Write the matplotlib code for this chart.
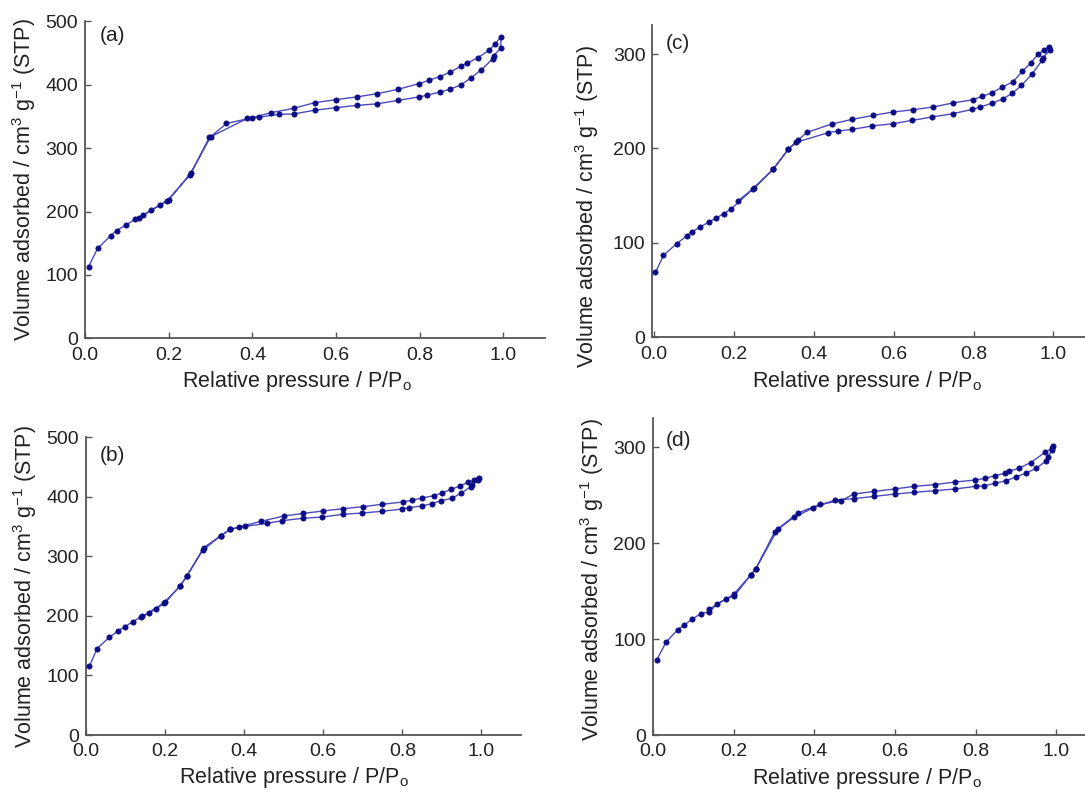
import matplotlib
matplotlib.use("Agg")
import matplotlib.pyplot as plt

plt.rcParams['font.family'] = ['Liberation Sans', 'DejaVu Sans']
plt.rcParams['mathtext.default'] = 'regular'

# ---- nitrogen isotherm data (relative pressure, volume adsorbed) ----
# (a)
a_ads_p = [0.008, 0.030, 0.061, 0.075, 0.098, 0.119, 0.138, 0.158, 0.178, 0.196,
           0.251, 0.297, 0.388, 0.417, 0.464, 0.499, 0.549, 0.600, 0.650, 0.698,
           0.749, 0.799, 0.817, 0.850, 0.873, 0.899, 0.923, 0.948, 0.975, 0.977, 0.994]
a_ads_v = [113, 142, 162, 170, 179, 187.5, 194, 202, 210, 217,
           258, 317, 347, 349, 353.5, 354, 360, 364, 367.6, 370,
           375.5, 381, 383.4, 389, 393, 400, 411, 424, 441, 446, 458]
a_des_p = [0.995, 0.980, 0.967, 0.940, 0.913, 0.900, 0.873, 0.848, 0.822, 0.799,
           0.749, 0.698, 0.650, 0.600, 0.550, 0.499, 0.444, 0.399, 0.338, 0.300,
           0.253, 0.200, 0.128]
a_des_v = [476, 464, 455, 443, 434, 430, 420, 413, 407, 402,
           393, 386, 381, 376.6, 372, 363, 356, 348, 339, 318,
           261, 218.5, 190]

# (b)
b_ads_p = [0.009, 0.028, 0.059, 0.082, 0.099, 0.118, 0.139, 0.160, 0.178, 0.198,
           0.238, 0.255, 0.295, 0.341, 0.365, 0.403, 0.457, 0.496, 0.548, 0.598,
           0.649, 0.699, 0.748, 0.799, 0.818, 0.849, 0.874, 0.898, 0.925, 0.948,
           0.973, 0.976, 0.990, 0.995]
b_ads_v = [115.9, 145, 164, 175.3, 182, 190.4, 198.2, 205, 212.2, 221.2,
           250.3, 267, 310.2, 334.8, 345.5, 350.5, 355.5, 360, 364, 366.2,
           370.7, 372.9, 375.7, 379.6, 381.9, 384.7, 388.6, 393.6, 397.5, 406,
           417.1, 419.9, 428.3, 432.3]
b_des_p = [0.992, 0.982, 0.965, 0.946, 0.923, 0.899, 0.879, 0.850, 0.824, 0.801,
           0.748, 0.700, 0.651, 0.599, 0.550, 0.501, 0.442, 0.388, 0.365, 0.341,
           0.298, 0.255, 0.238, 0.199, 0.143]
b_des_v = [430, 427.8, 424.4, 418.3, 412.7, 405.9, 402, 398.1, 394.2, 391.4,
           387.5, 383.5, 380.2, 376.3, 372.3, 367.9, 358.9, 349.4, 345.5, 334.8,
           314.7, 267, 250.3, 222.8, 199.3]

# (c)
c_ads_p = [0.004, 0.024, 0.057, 0.082, 0.095, 0.115, 0.137, 0.156, 0.175, 0.193,
           0.248, 0.299, 0.336, 0.356, 0.436, 0.462, 0.496, 0.546, 0.598, 0.647,
           0.696, 0.748, 0.797, 0.817, 0.847, 0.873, 0.897, 0.920, 0.946, 0.972,
           0.974, 0.991]
c_ads_v = [68.8, 86.8, 99.2, 107.3, 111.5, 116.8, 121.8, 126.4, 130.9, 135.9,
           157, 177.9, 199, 206.5, 216.7, 218.5, 220.2, 223.8, 226.2, 229.8,
           233.3, 236.8, 241.4, 243.9, 248.1, 252.4, 258.4, 266.8, 278.5, 293.6,
           296.1, 304.2]
c_des_p = [0.990, 0.976, 0.962, 0.943, 0.922, 0.899, 0.871, 0.845, 0.821, 0.798,
           0.748, 0.698, 0.649, 0.598, 0.548, 0.496, 0.445, 0.383, 0.360, 0.336,
           0.299, 0.250, 0.210]
c_des_v = [307.8, 304.2, 300, 290.5, 281.6, 270.7, 264.7, 258.7, 255.2, 251.6,
           248.1, 243.9, 241, 238.6, 235, 230.8, 225.9, 217, 208.6, 199,
           178.5, 158, 144.4]

# (d)
d_ads_p = [0.009, 0.032, 0.061, 0.078, 0.097, 0.119, 0.140, 0.159, 0.181, 0.202,
           0.243, 0.255, 0.302, 0.349, 0.397, 0.451, 0.498, 0.549, 0.600, 0.648,
           0.699, 0.748, 0.800, 0.820, 0.848, 0.875, 0.900, 0.925, 0.950, 0.974,
           0.979, 0.990, 0.992]
d_ads_v = [77.8, 96.5, 109.7, 114.6, 120.8, 126.4, 128.5, 136.5, 141.7, 145.1,
           167, 173.3, 211.8, 226.7, 236.5, 244.8, 246.2, 248.6, 251, 252.8,
           254.5, 256.25, 259, 259.5, 262.2, 264.9, 268.75, 272.9, 277.8, 285.4,
           289.9, 296.9, 300.7]
d_des_p = [0.989, 0.972, 0.936, 0.907, 0.882, 0.872, 0.847, 0.824, 0.799, 0.748,
           0.698, 0.648, 0.599, 0.549, 0.498, 0.466, 0.414, 0.360, 0.310, 0.255,
           0.243, 0.200, 0.140]
d_des_v = [298.6, 294.4, 283.7, 277.8, 274.7, 272.6, 270.1, 267.4, 265.6, 263.5,
           260.8, 259, 256.3, 253.8, 251, 244.1, 240.3, 231.3, 214.9, 173.3,
           167, 146.5, 131.25]

x_ticks = [0.0, 0.2, 0.4, 0.6, 0.8, 1.0]

LINE_COLOR = '#4b4bbd'
MARK_COLOR = '#0c0c86'
AXIS_COLOR = '#555555'
TEXT_COLOR = '#222222'

fig = plt.figure(figsize=(10.85, 7.9), dpi=100)

panels = [
    # tag, data, rect, xlim, ylim, yticks, ylabel xy, xlabel xy, tag xy
    ('(a)', (a_ads_p, a_ads_v, a_des_p, a_des_v),
     [0.0785, 0.5718, 0.4238, 0.4010], (0, 1.1), (0, 500), range(0, 501, 100),
     (-0.134, 0.50), (0.461, -0.138), (0.031, 0.955)),
    ('(b)', (b_ads_p, b_ads_v, b_des_p, b_des_v),
     [0.0792, 0.0696, 0.4010, 0.3768], (0, 1.1), (0, 500), range(0, 501, 100),
     (-0.139, 0.50), (0.478, -0.144), (0.031, 0.940)),
    ('(c)', (c_ads_p, c_ads_v, c_des_p, c_des_v),
     [0.6012, 0.5730, 0.3988, 0.3953], (-0.004, 1.079), (0, 330.7), range(0, 301, 100),
     (-0.151, 0.42), (0.496, -0.143), (0.031, 0.941)),
    ('(d)', (d_ads_p, d_ads_v, d_des_p, d_des_v),
     [0.6018, 0.0696, 0.3982, 0.4009], (0, 1.071), (0, 329.9), range(0, 301, 100),
     (-0.141, 0.49), (0.495, -0.136), (0.030, 0.931)),
]

for tag, (ap, av, dp, dv), rect, xlim, ylim, yticks, ylab_xy, xlab_xy, tag_xy in panels:
    ax = fig.add_axes(rect)
    # adsorption branch followed by the desorption branch as one loop
    p = list(ap) + list(dp)
    v = list(av) + list(dv)
    ax.plot(p, v, color=LINE_COLOR, lw=1.0, zorder=2)
    ax.plot(p, v, ls='none', marker='o', ms=3.8, mfc=MARK_COLOR, mec=MARK_COLOR,
            mew=0.5, zorder=3)

    ax.set_xlim(*xlim)
    ax.set_ylim(*ylim)
    ax.set_xticks(x_ticks)
    ax.set_xticklabels([f'{t:.1f}' for t in x_ticks])
    ax.set_yticks(list(yticks))

    for side in ('top', 'right'):
        ax.spines[side].set_visible(False)
    for side in ('left', 'bottom'):
        ax.spines[side].set_color(AXIS_COLOR)
        ax.spines[side].set_linewidth(1.3)
    ax.tick_params(direction='in', length=4, width=1.0, color=AXIS_COLOR,
                   labelsize=14, labelcolor=TEXT_COLOR)
    ax.tick_params(axis='x', pad=6)
    ax.tick_params(axis='y', pad=5)

    ax.set_ylabel(r'Volume adsorbed / cm$^3$ g$^{-1}$ (STP)', fontsize=15.5,
                  color=TEXT_COLOR, va='center')
    ax.yaxis.set_label_coords(*ylab_xy)
    ax.set_xlabel(r'Relative pressure / P/P$_o$', fontsize=15.5, color=TEXT_COLOR,
                  va='center')
    ax.xaxis.set_label_coords(*xlab_xy)

    ax.text(tag_xy[0], tag_xy[1], tag, transform=ax.transAxes, fontsize=15,
            ha='left', va='center', color=TEXT_COLOR)

fig.savefig('out.png', dpi=100)
